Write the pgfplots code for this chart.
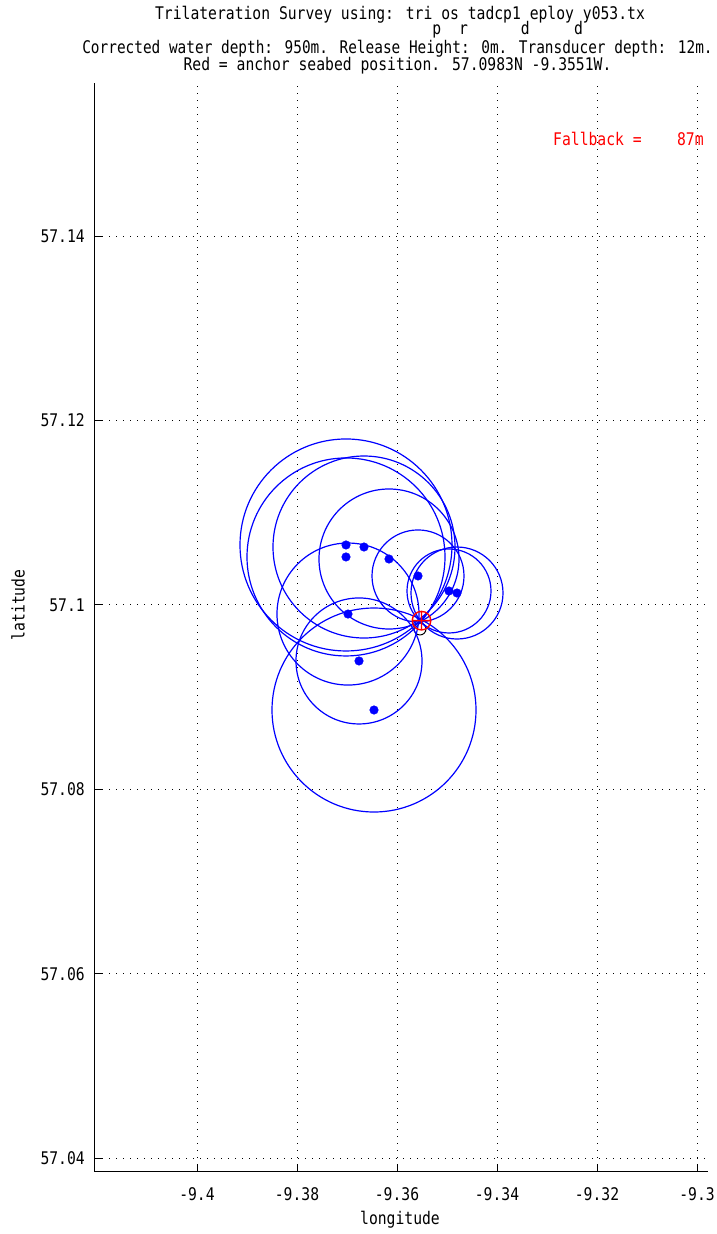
\documentclass[border=0pt]{standalone}
\usepackage{fontspec}
\usepackage{graphicx}
\usepackage{pgfplots}
\pgfplotsset{compat=1.18}
\usepackage{pgfplotstable}
\newfontfamily\mono[FakeStretch=0.845]{DejaVu Sans Mono}
\newcommand\chartfont{\mono\fontsize{17.4}{20}\selectfont}

% survey positions (lon, lat) and horizontal range radius r (chart points; 1 pt = 12.06 m)
\pgfplotstableread{
lon lat r
-9.3702 57.10651 106.0
-9.3702 57.10521 99.0
-9.3666 57.10629 91.0
-9.3616 57.10499 70.0
-9.3558 57.10315 46.0
-9.3496 57.10152 42.0
-9.3480 57.10130 46.0
-9.3698 57.09902 71.0
-9.3676 57.09393 63.0
-9.3646 57.08861 102.0
}\ranges

\pgfplotstableread{
lon lat
-9.3551 57.0983
}\anchorpos

\begin{document}
\begin{tikzpicture}[x=1pt,y=1pt]
\useasboundingbox (0,0) rectangle (717,1234);
\begin{axis}[
  at={(95pt,62pt)}, anchor=south west,
  scale only axis, width=613pt, height=1089pt,
  xmin=-9.4204, xmax=-9.2978, ymin=57.0385, ymax=57.15662,
  axis lines=left, axis line style={-, line width=1pt, black},
  xtick={-9.4,-9.38,-9.36,-9.34,-9.32,-9.3},
  xticklabels={-9.4,-9.38,-9.36,-9.34,-9.32,-9.3},
  ytick={57.04,57.06,57.08,57.1,57.12,57.14},
  yticklabels={57.04,57.06,57.08,57.1,57.12,57.14},
  scaled ticks=false,
  tick align=inside, major tick length=7pt, tick style={black, line width=1pt},
  grid=major, grid style={black, line width=1pt, dash pattern=on 1pt off 6pt},
  tick label style={font=\chartfont, inner sep=0pt},
  xticklabel style={yshift=-15pt},
  yticklabel style={xshift=-10pt},
]
\addplot[black, only marks, mark=o, mark size=6pt, mark options={line width=1pt}]
  coordinates {(-9.3554,57.0974)};
\addplot[scatter, only marks, mark=o,
  scatter/use mapped color={draw=blue, fill=none},
  visualization depends on={\thisrow{r} \as \rad},
  scatter/@pre marker code/.append style={/tikz/mark size=\rad, /tikz/line width=1.2pt},
  mark options={line width=1.2pt}] table[x=lon,y=lat] {\ranges};
\addplot[only marks, mark=*, mark size=4.3pt, blue] table[x=lon,y=lat] {\ranges};
\addplot[only marks, mark=oplus, mark size=9.3pt, red, mark options={line width=1.4pt}]
  table[x=lon,y=lat] {\anchorpos};
\end{axis}
\node[font=\chartfont, anchor=base, inner sep=0pt] (t1) at (400,1214)
  {Trilateration Survey using: tri os tadcp1 eploy y053.tx};
\node[font=\chartfont, anchor=base west, inner sep=0pt] at ([yshift=-15pt]t1.base west)
  {\hphantom{Trilateration Survey using: tri}p\hphantom{os}r\hphantom{tadcp1}d\hphantom{eploy}d};
\node[font=\chartfont, anchor=base, inner sep=0pt] at (397.5,1180.6)
  {\scalebox{0.98}[1]{Corrected water depth: 950m. Release Height: 0m. Transducer depth: 12m.}};
\node[font=\chartfont, anchor=base, inner sep=0pt] at (397.5,1163.6)
  {Red = anchor seabed position. 57.0983N -9.3551W.};
\node[font=\chartfont, anchor=base west, inner sep=0pt, text=red] at (553,1088.6)
  {Fallback =\hphantom{0000}87m};
\node[font=\chartfont, rotate=90, inner sep=0pt] at (18,629) {latitude};
\node[font=\chartfont, inner sep=0pt] at (400,14) {longitude};
\end{tikzpicture}
\end{document}
